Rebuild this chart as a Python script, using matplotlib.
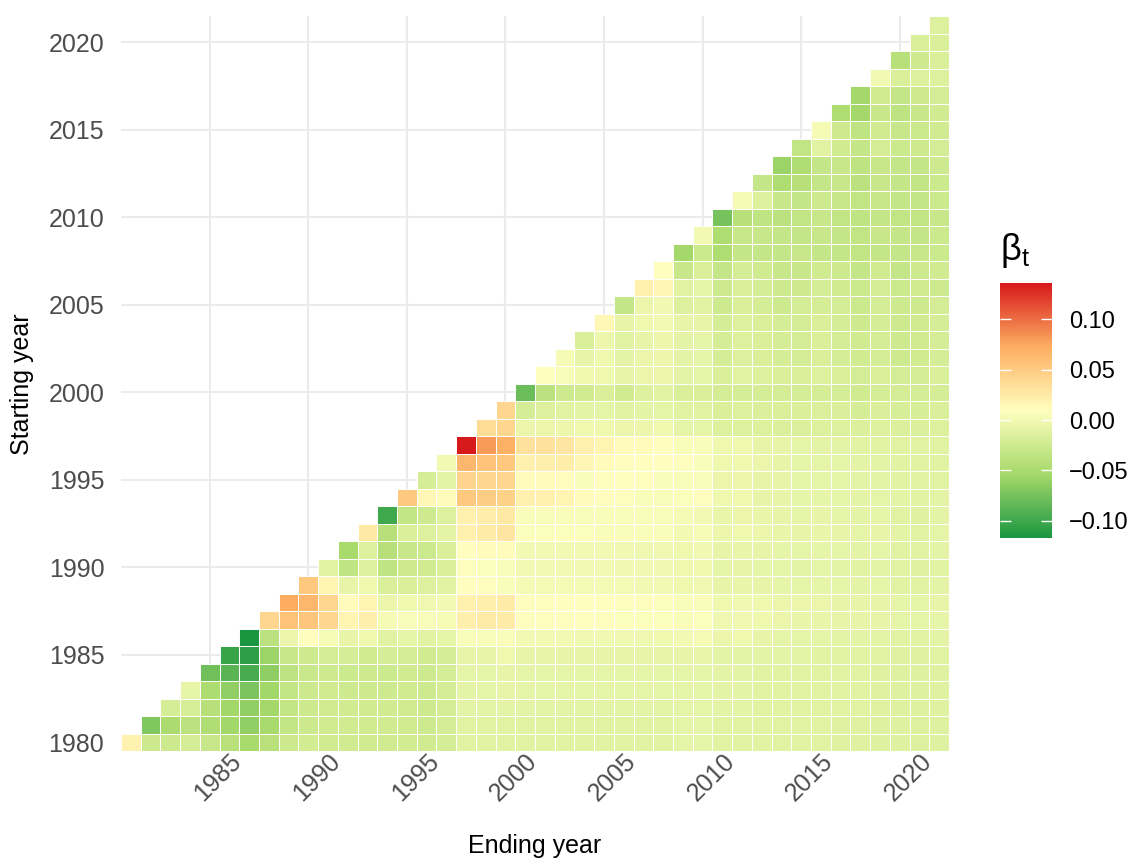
import numpy as np
import matplotlib
matplotlib.use('Agg')
import matplotlib.pyplot as plt
from matplotlib.colors import LinearSegmentedColormap, Normalize
from matplotlib.cm import ScalarMappable

plt.rcParams['font.family'] = ['Liberation Sans', 'DejaVu Sans']

# beta_t per starting year, in units of 0.001
# first value = ending year (start + 1), then one value per following ending year up to 2022
b1980 = [20, -27, -27, -21, -30, -40, -52, -40, -27, -23, -25, -25, -25, -25, -23, -24, -20,
         -12, -12, -12, -12, -12, -12, -12, -12, -12, -12, -12, -9, -9,
         -11, -11, -11, -12, -12, -12, -13, -13, -14, -14, -15, -14]
b1981 = [-70, -49, -38, -46, -55, -63, -51, -33, -27, -24, -24, -24, -24, -24, -26, -22,
         -12, -12, -12, -12, -12, -12, -12, -12, -12, -12, -12, -9, -9,
         -11, -11, -11, -12, -12, -12, -13, -13, -14, -14, -15, -14]
b1982 = [-21, -19, -41, -55, -63, -54, -33, -27, -24, -24, -24, -24, -24, -26, -22,
         -10, -10, -10, -10, -10, -10, -10, -10, -10, -10, -10, -9, -9,
         -10, -10, -11, -11, -11, -12, -12, -12, -13, -14, -14, -13]
b1983 = [-8, -48, -63, -73, -55, -33, -27, -24, -26, -26, -26, -24, -26, -22,
         -10, -9, -7, -9, -9, -9, -9, -9, -9, -9, -9, -9, -9,
         -10, -10, -11, -11, -11, -12, -12, -12, -13, -14, -14, -13]
b1984 = [-78, -88, -96, -64, -37, -29, -26, -28, -26, -28, -24, -26, -21,
         -9, -9, -7, -9, -9, -9, -9, -9, -9, -9, -9, -9, -9,
         -10, -10, -11, -11, -11, -12, -12, -12, -13, -14, -14, -13]
b1985 = [-104, -108, -58, -30, -26, -21, -21, -24, -21, -20, -24, -20,
         -7, -7, -3, -7, -7, -7, -7, -7, -7, -7, -7, -7, -6,
         -10, -10, -10, -10, -10, -11, -11, -11, -12, -13, -13, -12]
b1986 = [-117, -38, -5, 10, 3, -7, -3, -12, -9, -12, -9,
         4, 4, 6, 0, 0, 0, -1, -1, -2, -2, -3, 0, 2,
         -5, -3, -7, -9, -9, -9, -10, -10, -10, -12, -12, -10]
b1987 = [42, 56, 54, 42, 18, 22, 2, 4, 4, 3,
         22, 25, 25, 8, 8, 8, 8, 8, 7, 7, 7, 6, 7,
         -2, -2, -3, -5, -6, -6, -7, -7, -7, -9, -9, -8]
b1988 = [73, 65, 42, 12, 18, -5, -3, -2, 0,
         21, 22, 25, 8, 8, 9, 9, 9, 8, 8, 7, 4, 6,
         -3, -1, -3, -5, -5, -5, -7, -7, -7, -9, -9, -7]
b1989 = [52, 18, -7, -3, -18, -18, -15, -11,
         10, 8, 6, 2, 2, 2, 1, 1, 1, 0, 0, -3, -2,
         -7, -6, -7, -8, -9, -8, -9, -10, -9, -12, -12, -10]
b1990 = [-12, -35, -15, -35, -26, -24, -18,
         8, 7, 6, 0, 0, 0, 0, 0, -1, -1, -1, -3, -3,
         -9, -7, -8, -9, -10, -9, -10, -11, -10, -12, -13, -11]
b1991 = [-52, -15, -41, -30, -28, -18,
         10, 13, 13, 0, 0, 0, 0, 0, -1, -2, -2, -3, -1,
         -7, -6, -7, -8, -9, -8, -9, -10, -9, -12, -12, -10]
b1992 = [27, -41, -18, -15, -10,
         21, 25, 29, 7, 7, 7, 7, 6, 6, 6, 6, 0, 3,
         -4, -3, -4, -6, -7, -6, -7, -9, -7, -10, -12, -9]
b1993 = [-100, -34, -26, -15,
         21, 23, 27, 6, 5, 6, 4, 6, 6, 5, 5, 2, 0,
         -6, -5, -6, -7, -9, -7, -9, -10, -9, -12, -13, -10]
b1994 = [52, 16, 13, 52, 49, 46, 21, 21, 18, 13, 11, 8, 6, 4, 7, 8,
         -3, -3, -7, -7, -8, -8, -9, -10, -9, -10, -11, -10]
b1995 = [-20, -10, 43, 42, 42, 13, 13, 11, 6, 8, 8, 8, 6, 4, 4,
         -5, -5, -7, -7, -8, -9, -9, -10, -10, -11, -12, -12]
b1996 = [0, 65, 56, 52, 21, 22, 24, 17, 13, 11, 10, 10, 8, 6,
         -3, -3, -5, -7, -8, -9, -9, -10, -10, -11, -12, -12]
b1997 = [136, 81, 70, 33, 33, 29, 21, 18, 13, 12, 10, 6, 6,
         -3, -3, -7, -7, -9, -10, -10, -11, -11, -12, -12, -12]
b1998 = [37, 42, -5, -5, -4, -3, -3, -5, -4, -3, -9, -9,
         -15, -15, -15, -16, -16, -15, -15, -16, -15, -16, -16, -15]
b1999 = [42, -20, -15, -12, -10, -9, -12, -10, -9, -12, -12,
         -18, -15, -16, -18, -18, -16, -17, -20, -17, -19, -19, -17]
b2000 = [-80, -38, -26, -24, -18, -24, -15, -12, -18, -18,
         -22, -20, -20, -22, -22, -20, -20, -24, -20, -22, -22, -20]
b2001 = [9, 4, -3, -3, -7, -5, -5, -10, -9,
         -18, -12, -15, -18, -18, -15, -18, -22, -18, -22, -20, -18]
b2002 = [2, -7, -3, -10, -5, -4, -10, -9,
         -20, -15, -18, -20, -22, -18, -20, -24, -20, -26, -24, -20]
b2003 = [-18, -4, -12, -7, -4, -10, -9,
         -20, -15, -18, -20, -22, -18, -20, -24, -20, -26, -24, -20]
b2004 = [16, -7, -3, 0, -7, -7,
         -20, -15, -18, -20, -22, -18, -20, -26, -20, -26, -24, -20]
b2005 = [-32, -5, -1, -15, -12,
         -26, -18, -20, -26, -22, -20, -22, -28, -22, -26, -26, -22]
b2006 = [21, 17, -12, -9,
         -26, -18, -20, -26, -26, -20, -24, -28, -22, -28, -24, -26]
b2007 = [9, -30, -18,
         -32, -20, -24, -30, -30, -24, -26, -32, -24, -32, -26, -24]
b2008 = [-54, -28, -47, -32, -32, -32, -30, -32, -32, -34, -32, -32, -30, -28]
b2009 = [0, -47, -30, -30, -32, -32, -30, -32, -34, -30, -32, -32, -28]
b2010 = [-75, -41, -35, -38, -34, -30, -34, -35, -32, -34, -34, -30]
b2011 = [2, -15, -30, -32, -26, -30, -34, -30, -32, -32, -28]
b2012 = [-32, -47, -41, -32, -30, -38, -30, -32, -34, -28]
b2013 = [-58, -47, -32, -30, -36, -30, -32, -32, -26]
b2014 = [-34, -12, -24, -32, -22, -28, -26, -22]
b2015 = [2, -26, -35, -24, -30, -28, -24]
b2016 = [-47, -54, -30, -36, -30, -24]
b2017 = [-54, -24, -32, -26, -22]
b2018 = [0, -18, -15, -15]
b2019 = [-41, -26, -18]
b2020 = [-18, -18]
b2021 = [-15]

rows = [b1980, b1981, b1982, b1983, b1984, b1985, b1986, b1987, b1988, b1989,
        b1990, b1991, b1992, b1993, b1994, b1995, b1996, b1997, b1998, b1999,
        b2000, b2001, b2002, b2003, b2004, b2005, b2006, b2007, b2008, b2009,
        b2010, b2011, b2012, b2013, b2014, b2015, b2016, b2017, b2018, b2019,
        b2020, b2021]
start_years = list(range(1980, 2022))

x_ticks = [1985, 1990, 1995, 2000, 2005, 2010, 2015, 2020]
y_ticks = [1980, 1985, 1990, 1995, 2000, 2005, 2010, 2015, 2020]
cbar_ticks = [-0.10, -0.05, 0.00, 0.05, 0.10]
cbar_labels = ['\u22120.10', '\u22120.05', '0.00', '0.05', '0.10']

cmap = LinearSegmentedColormap.from_list(
    'rdylgn5', ['#1a9641', '#a6d96a', '#ffffbf', '#fdae61', '#d7191c'])
all_vals = np.concatenate([np.array(r) for r in rows]) / 1000
norm = Normalize(vmin=all_vals.min(), vmax=all_vals.max())

fig = plt.figure(figsize=(11.37, 8.59), dpi=100)
ax = fig.add_axes([121 / 1137, 1 - 751 / 859, 828 / 1137, 735 / 859])

for s, r in zip(start_years, rows):
    v = np.array(r) / 1000
    ends = np.arange(s + 1, s + 1 + len(v))
    ax.bar(ends, np.ones(len(v)), bottom=s - 0.5, width=1.0,
           color=cmap(norm(v)), edgecolor='white', linewidth=0.7, zorder=2)

ax.set_xlim(1980.5, 2022.5)
ax.set_ylim(1979.5, 2021.5)
ax.set_xticks(x_ticks)
ax.set_yticks(y_ticks)
ax.set_xticklabels([str(t) for t in x_ticks], rotation=45, ha='center', va='top',
                   rotation_mode='anchor')
ax.tick_params(length=0, labelsize=18, labelcolor='#4d4d4d')
ax.tick_params(axis='x', pad=13)
ax.tick_params(axis='y', pad=12)
ax.grid(True, color='#ebebeb', linewidth=1.5, zorder=0)
ax.set_axisbelow(True)
for sp in ax.spines.values():
    sp.set_visible(False)

fig.text(535 / 1137, 1 - 846 / 859, 'Ending year', ha='center', va='center', fontsize=18)
fig.text(22 / 1137, 1 - 384 / 859, 'Starting year', ha='center', va='center',
         rotation=90, fontsize=18)

# colour bar legend
cax = fig.add_axes([1000 / 1137, 1 - 538 / 859, 52 / 1137, 255 / 859])
cb = fig.colorbar(ScalarMappable(norm=norm, cmap=cmap), cax=cax, ticks=cbar_ticks)
cb.outline.set_visible(False)
cax.set_yticklabels(cbar_labels)
cax.tick_params(direction='in', length=8, width=1, color='white',
                left=True, right=True, labelleft=False, labelright=True,
                labelsize=17, pad=12)
fig.text(1000 / 1137, 1 - 250 / 859, r'$\mathregular{\beta_t}$', ha='left', va='center',
         fontsize=26)

fig.savefig('out.png', dpi=100, facecolor='white')
